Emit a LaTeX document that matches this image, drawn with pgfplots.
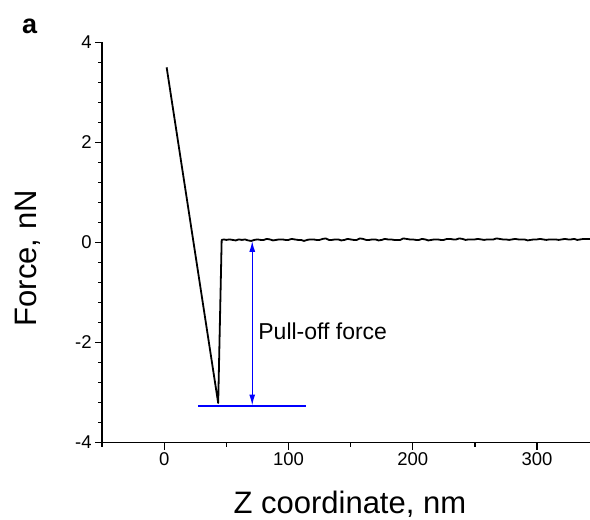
\documentclass[border=0pt]{standalone}
\usepackage{fontspec}
\setmainfont{Liberation Sans}
\usepackage{pgfplots}
\pgfplotsset{compat=1.18}
\usetikzlibrary{arrows.meta}
\definecolor{pureblue}{RGB}{0,0,255}
\begin{document}
\begin{tikzpicture}
\begin{axis}[
  at={(0,0)}, anchor=south west,
  scale only axis, width=488bp, height=400.4bp,
  xmin=-50, xmax=342.7, ymin=-4, ymax=4,
  axis lines=left,
  axis line style={-, line width=1.5bp, black},
  clip=false,
  xtick={0,100,200,300}, xticklabels={0,100,200,300},
  minor xtick={-50,50,150,250},
  ytick={-4,-2,0,2,4}, yticklabels={-4,-2,0,2,4},
  minor ytick={-3.6,-3.2,-2.8,-2.4,-1.6,-1.2,-0.8,-0.4,0.4,0.8,1.2,1.6,2.4,2.8,3.2,3.6},
  tick align=outside,
  major tick length=7bp, minor tick length=4bp,
  every tick/.style={black, line width=1.5bp},
  tick label style={font=\fontsize{18.5bp}{20bp}\selectfont},
  xlabel={Z coordinate, nm},
  ylabel={Force, nN},
  label style={font=\fontsize{31bp}{34bp}\selectfont},
  xlabel style={at={(axis description cs:0.5078,-0.1765)}, anchor=base},
  ylabel style={at={(axis description cs:-0.1338,0.4605)}, anchor=base, rotate=0},
]
\addplot[black, line width=1.8bp, line join=round] coordinates {
(1.9,3.5) (22,0.25) (43.4,-3.21) (46.2,0.05)
(48,0.06) (50,0.05) (52.5,0.06) (55,0.05) (57.5,0.04) (60,0.06) (62.5,0.05) (65,0.06)
(67.5,0.04) (70,0.03) (72.5,0.05) (75,0.06) (77.5,0.05) (80,0.05) (82.5,0.07) (85,0.06)
(87.5,0.04) (90,0.05) (92.5,0.06) (95,0.06) (97.5,0.05) (100,0.05) (102.5,0.07) (105,0.06)
(107.5,0.05) (110,0.05) (112.5,0.03) (115,0.05) (117.5,0.06) (120,0.06) (122.5,0.05) (125,0.05)
(127.5,0.07) (130,0.08) (132.5,0.05) (135,0.05) (137.5,0.06) (140,0.06) (142.5,0.04) (145,0.05)
(147.5,0.07) (150,0.06) (152.5,0.05) (155,0.05) (157.5,0.08) (160,0.07) (162.5,0.05) (165,0.05)
(167.5,0.06) (170,0.06) (172.5,0.04) (175,0.05) (177.5,0.07) (180,0.06) (182.5,0.06) (185,0.05)
(187.5,0.05) (190,0.05) (192.5,0.08) (195,0.07) (197.5,0.06) (200,0.06) (202.5,0.05) (205,0.05)
(207.5,0.07) (210,0.06) (212.5,0.04) (215,0.05) (217.5,0.06) (220,0.06) (222.5,0.05) (225,0.05)
(227.5,0.07) (230,0.07) (232.5,0.06) (235,0.06) (237.5,0.08) (240,0.07) (242.5,0.05) (245,0.06)
(247.5,0.06) (250,0.06) (252.5,0.07) (255,0.06) (257.5,0.05) (260,0.06) (262.5,0.06) (265,0.06)
(267.5,0.08) (270,0.07) (272.5,0.06) (275,0.06) (277.5,0.05) (280,0.06) (282.5,0.07) (285,0.06)
(287.5,0.06) (290,0.06) (292.5,0.04) (295,0.05) (297.5,0.06) (300,0.06) (302.5,0.07) (305,0.06)
(307.5,0.05) (310,0.06) (312.5,0.06) (315,0.06) (317.5,0.05) (320,0.06) (322.5,0.07) (325,0.06)
(327.5,0.06) (330,0.07) (332.5,0.05) (335,0.06) (337.5,0.07) (340,0.07) (342.7,0.07)
};
\addplot[draw=pureblue, color=pureblue, line width=2bp] coordinates {(27.4,-3.26) (113.8,-3.26)};
\addplot[draw=pureblue, color=pureblue, line width=1.3bp, {Latex[length=11bp,width=6bp]}-{Latex[length=11bp,width=6bp]}]
  coordinates {(70.8,-3.26) (70.8,0.03)};
\node[anchor=base west, font=\fontsize{23bp}{26bp}\selectfont, inner sep=0pt]
  at (axis cs:75.6,-1.95) {Pull-off force};
\node[anchor=base west, font=\fontsize{27bp}{30bp}\selectfont\bfseries, inner sep=0pt]
  at (axis description cs:-0.1645,1.0225) {a};
\end{axis}
\pgfresetboundingbox
\useasboundingbox (-102.2bp,-77.3bp) rectangle (488bp,442.7bp);
\end{tikzpicture}
\end{document}
